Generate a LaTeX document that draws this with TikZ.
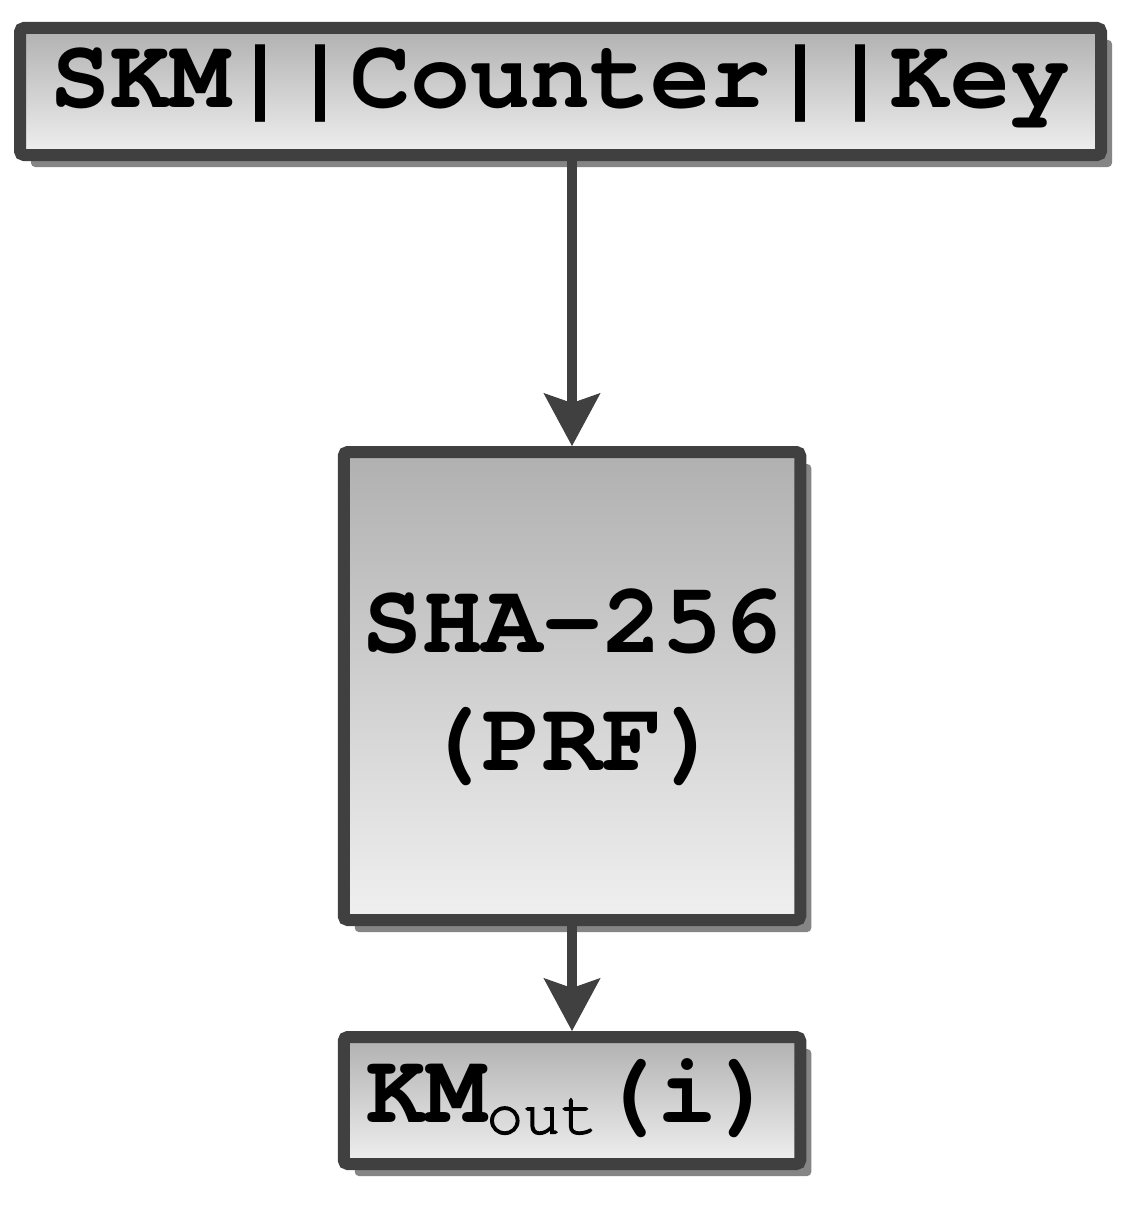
\documentclass[tikz,border=0pt]{standalone}
\usepackage{fontspec}
\setmonofont{TeX Gyre Cursor}
\usetikzlibrary{arrows.meta,shadows}
\definecolor{boxline}{RGB}{64,64,64}
\definecolor{boxtop}{RGB}{176,176,176}
\definecolor{boxbottom}{RGB}{240,240,240}
\definecolor{shadowgray}{RGB}{133,133,133}

\begin{document}
\begin{tikzpicture}[x=1pt,y=-1pt,
    block/.style={draw=boxline,line width=12pt,rounded corners=4pt,
        top color=boxtop,bottom color=boxbottom,inner sep=0pt,
        drop shadow={shadow xshift=11pt,shadow yshift=-12pt,fill=shadowgray,opacity=1},
        font=\ttfamily\bfseries\fontsize{100}{118}\selectfont},
    flow/.style={draw=boxline,line width=9.5pt,-{Stealth[length=53pt,width=57pt,inset=10pt,line width=1pt]}}]
    \useasboundingbox[fill=white] (0,0) rectangle (1126,1207);

    % Input block
    \node[block,minimum width=1081pt,minimum height=127pt,text height=60pt,text depth=29pt] (input) at (560.5,91.5) {SKM||Counter||Key};

    % PRF block
    \node[block,minimum width=456.5pt,minimum height=468pt,text height=188pt,text depth=20pt,align=center] (prf) at (572,686) {SHA-256\\(PRF)};

    % Output block
    \node[block,minimum width=456.5pt,minimum height=127pt,text height=60pt,text depth=16pt] (output) at (572,1100.5)
        {KM\raisebox{-11pt}{\mdseries\addfontfeature{FakeBold=2}\fontsize{62}{62}\selectfont out}(i)};

    % Arrows
    \draw[flow] (input.south -| prf.north) -- (prf.north);
    \draw[flow] (prf.south) -- (output.north);
\end{tikzpicture}
\end{document}
